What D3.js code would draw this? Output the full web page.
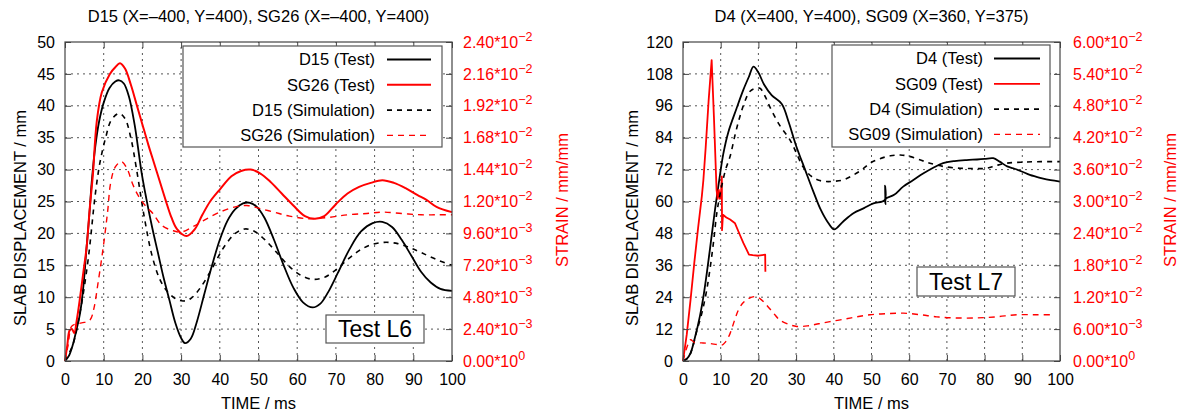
<!DOCTYPE html>
<html>
<head>
<meta charset="utf-8">
<script src="https://cdn.jsdelivr.net/npm/d3@7"></script>
<style>
  body { margin: 0; background: #fff; }
  text { font-family: "Liberation Sans", Arial, sans-serif; }
</style>
</head>
<body>
<svg id="figure" width="1183" height="415"></svg>
<script>
//----------------------------------------------------------------
// Données : [temps (ms), valeur]
//----------------------------------------------------------------
var ticksTemps = [0, 10, 20, 30, 40, 50, 60, 70, 80, 90, 100];
var ticksDeplL6 = [0, 5, 10, 15, 20, 25, 30, 35, 40, 45, 50];
var ticksDeplL7 = [0, 12, 24, 36, 48, 60, 72, 84, 96, 108, 120];
var ticksStrainL6 = [0, 0.0024, 0.0048, 0.0072, 0.0096, 0.012, 0.0144, 0.0168, 0.0192, 0.0216, 0.024];
var ticksStrainL7 = [0, 0.006, 0.012, 0.018, 0.024, 0.03, 0.036, 0.042, 0.048, 0.054, 0.06];

// Test L6
var d15Test = [[0,0],[1,0.8],[2,2.5],[3,5],[3.9,7.5],[4.8,12],[5.6,18],[6.3,23],[6.9,28],[7.8,33.5],[8.8,37.5],[10,40.5],[11.5,42.8],[13,43.8],[14,44],[15.2,43.5],[16.5,41.5],[18,37],[19.8,29.5],[21,25.5],[22.5,21],[24,17],[25.5,13],[27,9.5],[28.5,6],[30,3.6],[31,2.8],[32.5,3.5],[34,6],[36,10.5],[38,15],[40,19],[42,22],[44,23.8],[46,24.7],[47.8,24.8],[49.5,24.2],[51.5,22.5],[54,19],[56.5,15],[59,11.5],[61.5,9.2],[64,8.4],[66,9],[68,10.8],[70.5,13.8],[73.5,17.5],[76.5,20.3],[79.5,21.6],[82,21.8],[84.5,21],[87,19],[89.5,16.5],[92,14],[94.5,12.3],[97,11.3],[100,11]];
var sg26Test = [[0,0],[0.6,0.0012],[1.2,0.0023],[1.8,0.0024],[2.4,0.0021],[3,0.0030],[3.9,0.0048],[4.8,0.0068],[5.6,0.0086],[6.4,0.0115],[7.2,0.0140],[8.2,0.0180],[9.5,0.0202],[11.6,0.0216],[13,0.0221],[14.2,0.0224],[15.5,0.0220],[17,0.0208],[18.5,0.0193],[20,0.0178],[21.5,0.0163],[23,0.0149],[24.5,0.0135],[26,0.0121],[27.5,0.0108],[29,0.0099],[31.4,0.0094],[33.5,0.0099],[35.5,0.0110],[37.5,0.0120],[40,0.0129],[43,0.0139],[45.5,0.0143],[48,0.0144],[50.5,0.0141],[53,0.0135],[56,0.0126],[59,0.0117],[62,0.0109],[64.6,0.0107],[67,0.0109],[70,0.0118],[73,0.0126],[76,0.0131],[79,0.0134],[82,0.0136],[85,0.0134],[88,0.0130],[91,0.0125],[93.5,0.0121],[96,0.0116],[100,0.0112]];
var d15Simu = [[0,0],[2,2.5],[4,8],[6,16],[7.8,26],[9,31],[10.5,35],[12,37.8],[14,38.8],[15.5,38],[17,35],[18.5,30],[20.5,22.5],[22.5,16.5],[24.5,12.8],[26.3,11],[28.5,9.8],[30.5,9.4],[32.5,9.8],[35,11.5],[38,14.5],[41,17.8],[44,20],[46.5,20.7],[49,20.3],[52,18.8],[55,16.8],[58,14.8],[61,13.4],[64,12.8],[67,13.1],[70,14.3],[73,15.9],[76,17.3],[79,18.2],[82.5,18.6],[86,18.4],[89,17.8],[92,17],[96,15.9],[100,15]];
var sg26Simu = [[0,0],[0.8,0.0012],[1.7,0.0026],[3,0.0028],[5,0.0029],[6.5,0.0031],[7.5,0.0040],[8.5,0.0058],[9.9,0.0086],[11,0.0112],[11.8,0.0134],[13,0.0146],[14.6,0.0150],[16,0.0145],[17.5,0.0133],[19,0.0124],[21,0.0116],[22.7,0.0111],[25,0.0102],[28,0.0098],[30,0.0097],[33,0.0101],[36,0.0106],[40,0.0112],[44,0.0116],[47,0.0117],[50,0.0115],[54,0.0112],[58,0.0109],[63,0.0107],[68,0.0108],[73,0.0110],[78,0.0111],[82,0.0112],[87,0.0111],[92,0.0110],[96,0.0110],[100,0.0110]];

// Test L7
var d4Test = [[0,0],[1,0.8],[2,3],[3.2,9],[4.5,17],[5.5,25],[6.5,35],[7.5,46],[8.5,57],[9.5,67],[10.7,78],[12,86],[14.2,95],[16,102],[17.5,107],[18.7,110.7],[20,108.5],[21.5,104],[23.5,100],[26.2,96.7],[28,90],[30,81],[32.4,71.9],[34.5,64],[36.5,57],[38.5,52],[40.1,49.5],[42.5,52.5],[45.2,55.6],[48,57.5],[50.5,59.3],[53.5,60.5],[53.6,66],[53.7,59],[53.8,61],[56,62.5],[58.4,65.6],[61,68],[63.8,70.6],[66.5,72.8],[69,74.4],[72,75.2],[75.2,75.6],[78,75.8],[80,76],[82.3,76.3],[84,75],[86,73.2],[87.6,72.5],[90,71.2],[92,70],[95,68.8],[97.5,68],[100,67.5]];
var sg09Test = [[0,0],[1,0.005],[2,0.0115],[3,0.0185],[4,0.025],[5,0.031],[5.4,0.034],[6,0.040],[6.8,0.049],[7.6,0.0566],[8.2,0.046],[8.9,0.0322],[9.2,0.0305],[9.5,0.0322],[9.8,0.0305],[10.1,0.0318],[10.3,0.0347],[10.35,0.0246],[10.6,0.0275],[11.5,0.0270],[12.5,0.0266],[13.8,0.0259],[15.1,0.0237],[16,0.0222],[16.9,0.0209],[17.5,0.0200],[18.5,0.0199],[20,0.0198],[21.8,0.0200],[21.85,0.0168]];
var d4Simu = [[0,0],[1.5,1.5],[2.5,5],[3.6,11],[5,18],[6.2,26],[7.2,35],[8.2,46],[8.9,55],[9.6,61],[10.3,66],[11.3,72],[12.5,77],[13.8,85],[15.1,92],[16.5,98],[17.8,101.5],[19,102.5],[20.4,102.6],[21.8,99.5],[23,95.7],[25.5,89],[28.4,83.1],[30,78.5],[31.8,73.1],[34,69.5],[36,68],[38,67.5],[40,67.6],[42.5,68.1],[45,69.8],[47.5,72],[49.6,74.4],[52,76],[55,77.2],[57.6,77.5],[60,77],[63,75.6],[65.5,74.4],[69,73.2],[73.5,72.5],[77,72.4],[80.5,72.5],[83,73.5],[85.8,74.4],[90,74.8],[95,75],[100,75]];
var sg09Simu = [[0,0],[1,0.0025],[2,0.0040],[3,0.0035],[5,0.0034],[7,0.0033],[9,0.0031],[10.3,0.0030],[11.3,0.0036],[12.5,0.0052],[13.6,0.0075],[14.7,0.0096],[16,0.0110],[17.5,0.0118],[19.1,0.0121],[20.5,0.0117],[22.2,0.0105],[24,0.0090],[25.7,0.0077],[28,0.0069],[30.2,0.0065],[33,0.0066],[36,0.0070],[39,0.0074],[43,0.0079],[46,0.0083],[49.6,0.0087],[54,0.0089],[58.4,0.0090],[63,0.0087],[67.3,0.0083],[72,0.0081],[77.9,0.0081],[83,0.0083],[88.5,0.0087],[94,0.0087],[98.5,0.0087]];

//----------------------------------------------------------------
// Mise en page des deux panneaux
//----------------------------------------------------------------
var svg = d3.select("#figure");
var rouge = "#ff0000";
var taille = 16.5;      // titres, légende, noms d'axes
var tailleTick = 16;    // graduations

var panneaux = [
  {
    titre: "D15 (X=\u2013400, Y=400), SG26 (X=\u2013400, Y=400)",
    gauche: 65, droite: 452, haut: 42, bas: 361,
    ticksY: ticksDeplL6, ticksY2: ticksStrainL6,
    series: [
      {nom: "D15 (Test)", data: d15Test, axe: "y", couleur: "#000", tirets: null, epais: 1.8},
      {nom: "SG26 (Test)", data: sg26Test, axe: "y2", couleur: rouge, tirets: null, epais: 2},
      {nom: "D15 (Simulation)", data: d15Simu, axe: "y", couleur: "#000", tirets: "5,5", epais: 1.6},
      {nom: "SG26 (Simulation)", data: sg26Simu, axe: "y2", couleur: rouge, tirets: "6,5", epais: 1.4}
    ],
    legende: {x: 183, y: 46, w: 259, h: 101, texte: 375, l0: 387, l1: 431},
    note: {texte: "Test L6", x: 326, y: 315, w: 98, h: 28},
    labelY: 20, labelY2: 562, texteY2: 463
  },
  {
    titre: "D4 (X=400, Y=400), SG09 (X=360, Y=375)",
    gauche: 683, droite: 1060, haut: 42, bas: 361,
    ticksY: ticksDeplL7, ticksY2: ticksStrainL7,
    series: [
      {nom: "D4 (Test)", data: d4Test, axe: "y", couleur: "#000", tirets: null, epais: 1.8},
      {nom: "SG09 (Test)", data: sg09Test, axe: "y2", couleur: rouge, tirets: null, epais: 1.8, brut: true},
      {nom: "D4 (Simulation)", data: d4Simu, axe: "y", couleur: "#000", tirets: "5,5", epais: 1.6},
      {nom: "SG09 (Simulation)", data: sg09Simu, axe: "y2", couleur: rouge, tirets: "6,5", epais: 1.4}
    ],
    legende: {x: 832, y: 45, w: 218, h: 102, texte: 983, l0: 994, l1: 1040},
    note: {texte: "Test L7", x: 917, y: 267, w: 98, h: 29},
    labelY: 632, labelY2: 1170, texteY2: 1073
  }
];

//----------------------------------------------------------------
// format 2.40*10^-2
//----------------------------------------------------------------
function formatStrain(sel, v) {
  var exp = v === 0 ? 0 : Math.floor(Math.log10(v) + 1e-9);
  var mant = v / Math.pow(10, exp);
  sel.text(null);
  sel.append("tspan").text(mant.toFixed(2) + "*10");
  sel.append("tspan").attr("dy", -7).attr("font-size", 12.5)
     .text(exp < 0 ? "\u2212" + (-exp) : String(exp));
}

function dessinerPanneau(p) {
  var g = svg.append("g");
  var x = d3.scaleLinear().domain([0, 100]).range([p.gauche, p.droite]);
  var y = d3.scaleLinear().domain([0, p.ticksY[p.ticksY.length - 1]]).range([p.bas, p.haut]);
  var y2 = d3.scaleLinear().domain([0, p.ticksY2[p.ticksY2.length - 1]]).range([p.bas, p.haut]);

  // grille pointillée
  var grille = g.append("g").attr("stroke", "#555").attr("stroke-width", 1)
      .attr("stroke-dasharray", "2,4");
  grille.selectAll(".gx").data(ticksTemps.slice(1, -1)).enter().append("line")
      .attr("x1", function(d) { return x(d); }).attr("x2", function(d) { return x(d); })
      .attr("y1", p.bas).attr("y2", p.haut);
  grille.selectAll(".gy").data(p.ticksY.slice(1, -1)).enter().append("line")
      .attr("y1", function(d) { return y(d); }).attr("y2", function(d) { return y(d); })
      .attr("x1", p.gauche).attr("x2", p.droite);

  // courbes
  p.series.forEach(function(s) {
    var sy = s.axe === "y" ? y : y2;
    var ligne = d3.line()
        .x(function(d) { return x(d[0]); })
        .y(function(d) { return sy(d[1]); })
        .curve(s.brut ? d3.curveLinear : d3.curveCatmullRom.alpha(0.5));
    g.append("path").datum(s.data)
        .attr("fill", "none").attr("stroke", s.couleur)
        .attr("stroke-width", s.epais)
        .attr("stroke-dasharray", s.tirets)
        .attr("stroke-linejoin", "round")
        .attr("d", ligne);
  });

  // axes (graduations vers l'intérieur)
  var axeX = g.append("g").attr("transform", "translate(0," + p.bas + ")")
      .call(d3.axisBottom(x).tickValues(ticksTemps).tickSize(-6).tickPadding(13));
  var axeXh = g.append("g").attr("transform", "translate(0," + p.haut + ")")
      .call(d3.axisTop(x).tickValues(ticksTemps).tickSize(-6).tickFormat(""));
  var axeY = g.append("g").attr("transform", "translate(" + p.gauche + ",0)")
      .call(d3.axisLeft(y).tickValues(p.ticksY).tickSize(-6).tickPadding(10));
  var axeY2 = g.append("g").attr("transform", "translate(" + p.droite + ",0)")
      .call(d3.axisRight(y2).tickValues(p.ticksY2).tickSize(-6).tickPadding(p.texteY2 - p.droite));
  [axeX, axeXh, axeY, axeY2].forEach(function(a) {
    a.select(".domain").remove();
    a.selectAll("line").attr("stroke", "#444");
    a.selectAll("text").attr("font-size", tailleTick).attr("fill", "#000")
      .attr("font-family", "'Liberation Sans', Arial, sans-serif");
  });
  axeY2.selectAll("text").attr("fill", rouge).each(function(d) {
    formatStrain(d3.select(this), d);
  });

  // cadre
  g.append("rect").attr("x", p.gauche).attr("y", p.haut)
      .attr("width", p.droite - p.gauche).attr("height", p.bas - p.haut)
      .attr("fill", "none").attr("stroke", "#444").attr("stroke-width", 1.2);

  // légende
  var L = p.legende;
  g.append("rect").attr("x", L.x).attr("y", L.y).attr("width", L.w).attr("height", L.h)
      .attr("fill", "#fff").attr("stroke", "#555").attr("stroke-width", 1.2);
  p.series.forEach(function(s, i) {
    var cy = L.y + 13.5 + i * 25.3;
    g.append("text").attr("x", L.texte).attr("y", cy).attr("dy", "0.35em")
        .attr("text-anchor", "end").attr("font-size", taille).text(s.nom);
    g.append("line").attr("x1", L.l0).attr("x2", L.l1).attr("y1", cy).attr("y2", cy)
        .attr("stroke", s.couleur).attr("stroke-width", s.epais)
        .attr("stroke-dasharray", s.tirets);
  });

  // étiquette "Test Lx"
  var N = p.note;
  g.append("rect").attr("x", N.x).attr("y", N.y).attr("width", N.w).attr("height", N.h)
      .attr("fill", "#fff").attr("stroke", "#555").attr("stroke-width", 1.2);
  g.append("text").attr("x", N.x + N.w / 2).attr("y", N.y + N.h / 2).attr("dy", "0.36em")
      .attr("text-anchor", "middle").attr("font-size", 23).text(N.texte);

  // titres
  var cx = (p.gauche + p.droite) / 2;
  g.append("text").attr("x", cx).attr("y", 22).attr("text-anchor", "middle")
      .attr("font-size", taille).text(p.titre);
  g.append("text").attr("x", cx).attr("y", 409).attr("text-anchor", "middle")
      .attr("font-size", taille).text("TIME / ms");
  g.append("text").attr("transform", "translate(" + p.labelY + ",218) rotate(-90)")
      .attr("text-anchor", "middle").attr("dy", "0.35em").attr("font-size", taille)
      .text("SLAB DISPLACEMENT / mm");
  g.append("text").attr("transform", "translate(" + p.labelY2 + ",200) rotate(-90)")
      .attr("text-anchor", "middle").attr("dy", "0.35em").attr("font-size", taille)
      .attr("fill", rouge).text("STRAIN / mm/mm");
}

panneaux.forEach(dessinerPanneau);
</script>
</body>
</html>
